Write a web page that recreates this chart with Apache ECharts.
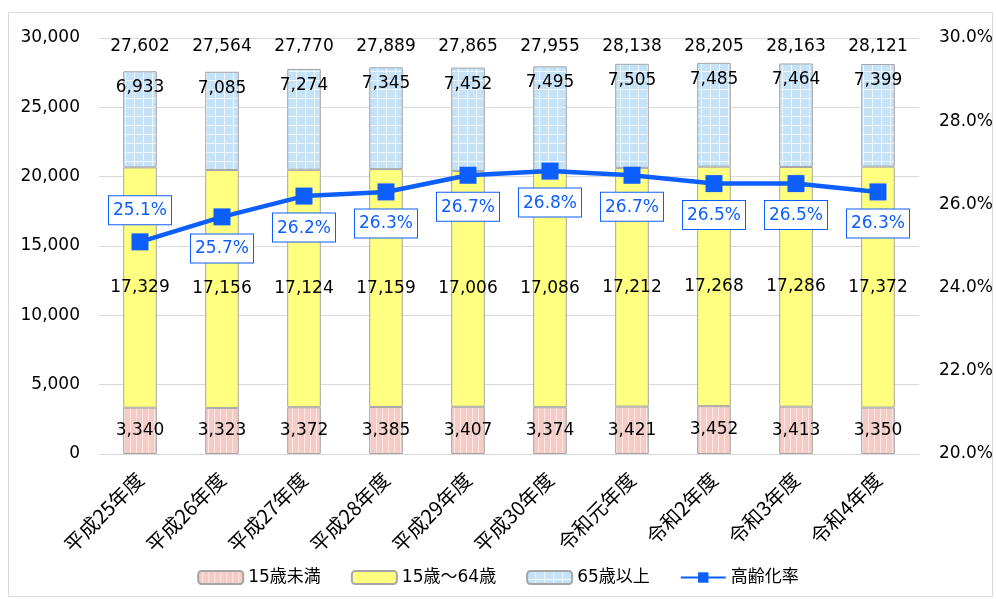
<!DOCTYPE html>
<html><head><meta charset="utf-8">
<script src="https://cdn.jsdelivr.net/npm/echarts@6/dist/echarts.min.js"></script>
<style>html,body{margin:0;padding:0;background:#fff}#c{width:996px;height:599px}</style>
</head><body><div id="c"></div>
<script>
const categories = ['平成25年度','平成26年度','平成27年度','平成28年度','平成29年度','平成30年度','令和元年度','令和2年度','令和3年度','令和4年度'];
const under15 = [3340,3323,3372,3385,3407,3374,3421,3452,3413,3350];
const age15to64 = [17329,17156,17124,17159,17006,17086,17212,17268,17286,17372];
const over65 = [6933,7085,7274,7345,7452,7495,7505,7485,7464,7399];
const totals = [27602,27564,27770,27889,27865,27955,28138,28205,28163,28121];
const agingRate = [25.1,25.7,26.2,26.3,26.7,26.8,26.7,26.5,26.5,26.3];
const leftTicks = [0,5000,10000,15000,20000,25000,30000];
const rightTicks = [20,22,24,26,28,30];

function pinkPattern(){
  const c=document.createElement('canvas');c.width=6;c.height=6;const g=c.getContext('2d');
  g.fillStyle='#F6CBC5';g.fillRect(0,0,6,6);g.fillStyle='#FCE8E5';g.fillRect(4,0,1,6);return c;
}
function bluePattern(){
  const c=document.createElement('canvas');c.width=9;c.height=9;const g=c.getContext('2d');
  g.fillStyle='#C5E2F7';g.fillRect(0,0,9,9);g.fillStyle='#EEF7FD';g.fillRect(8,0,1,9);g.fillRect(0,8,9,1);return c;
}
const FONT='"DejaVu Sans","Noto Sans CJK JP",sans-serif';
const fmt=v=>v.toLocaleString('en-US');
const chart=echarts.init(document.getElementById('c'),null,{renderer:'canvas'});
const labelBase={show:true,color:'#000',fontSize:17,fontFamily:FONT,formatter:p=>fmt(p.value)};
chart.setOption({
  animation:false,
  textStyle:{fontFamily:FONT},
  graphic:[{type:'rect',shape:{x:8.5,y:12.5,width:984,height:584},style:{fill:'none',stroke:'#D9D9D9',lineWidth:1},z:-1}],
  grid:{left:99,right:74,top:38,bottom:145},
  legend:{bottom:8,left:'center',itemWidth:45,itemHeight:13,itemGap:30,
    textStyle:{fontSize:17,color:'#000',fontFamily:FONT},
    data:['15歳未満','15歳～64歳','65歳以上','高齢化率']},
  xAxis:[{type:'category',data:categories,axisLine:{lineStyle:{color:'#D9D9D9'}},axisTick:{show:false},
    axisLabel:{rotate:45,fontSize:20,color:'#000',margin:22,interval:0,fontFamily:'"Noto Sans CJK JP",sans-serif'}},
    {type:'category',position:'top',data:totals.map(fmt),axisLine:{show:false},axisTick:{show:false},
    axisLabel:{inside:true,margin:0,fontSize:17,color:'#000',interval:0,verticalAlign:'top',fontFamily:FONT}}],
  yAxis:[{type:'value',min:0,max:30000,interval:5000,splitLine:{lineStyle:{color:'#D9D9D9'}},
    axisLabel:{fontSize:17,color:'#000',margin:19,fontFamily:FONT,formatter:v=>fmt(v)}},
    {type:'value',min:20,max:30,interval:2,splitLine:{show:false},
    axisLabel:{fontSize:17,color:'#000',margin:20,fontFamily:FONT,formatter:v=>v.toFixed(1)+'%'}}],
  series:[
    {name:'15歳未満',type:'bar',stack:'a',barWidth:'41%',data:under15,
      itemStyle:{color:{image:pinkPattern(),repeat:'repeat'},borderColor:'#A6A6A6',borderWidth:1},
      label:Object.assign({},labelBase,{position:'inside'})},
    {name:'15歳～64歳',type:'bar',stack:'a',data:age15to64,
      itemStyle:{color:'#FFFF80',borderColor:'#A6A6A6',borderWidth:1},
      label:Object.assign({},labelBase,{position:'inside'})},
    {name:'65歳以上',type:'bar',stack:'a',data:over65,
      itemStyle:{color:{image:bluePattern(),repeat:'repeat'},borderColor:'#A6A6A6',borderWidth:1},
      label:Object.assign({},labelBase,{position:'insideTop',distance:8})},
    {name:'高齢化率',type:'line',yAxisIndex:1,data:agingRate.map((v,i)=>({value:v,label:{position:i===0?'top':'bottom'}})),
      symbol:'rect',symbolSize:17,lineStyle:{color:'#0D5EFF',width:4.5},itemStyle:{color:'#0D5EFF'},
      label:{show:true,distance:9,fontSize:17,color:'#0D5EFF',fontFamily:FONT,backgroundColor:'#fff',
        borderColor:'#0D5EFF',borderWidth:1,padding:[6,4,5,4],formatter:p=>p.value.toFixed(1)+'%'},z:5}
  ]
});
</script></body></html>
